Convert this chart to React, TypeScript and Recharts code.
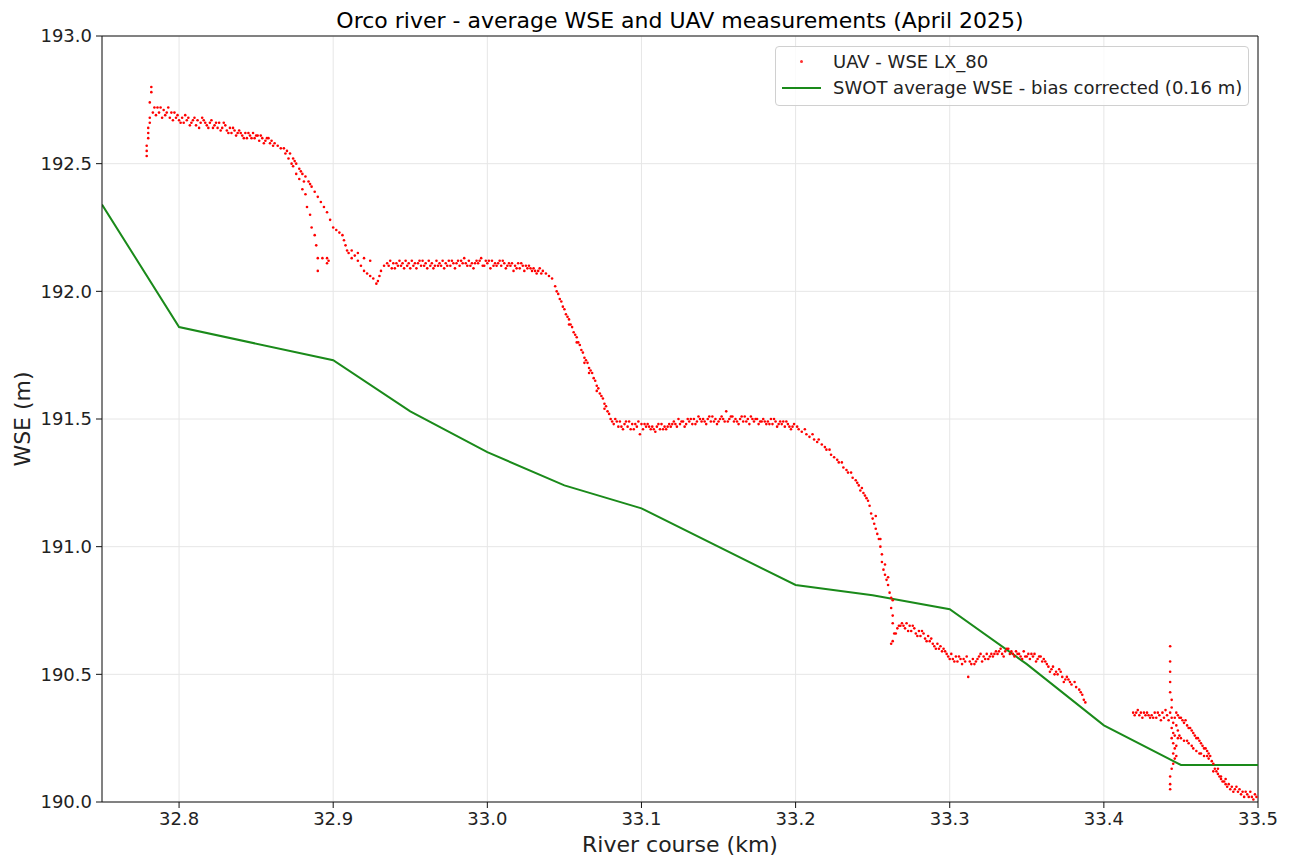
import React from "react";
import {
  ComposedChart,
  Scatter,
  Line,
  XAxis,
  YAxis,
  CartesianGrid,
  ReferenceLine,
} from "recharts";

// x: river course (km), y: water surface elevation (m)
const xTicks = [32.8, 32.9, 33.0, 33.1, 33.2, 33.3, 33.4, 33.5];
const yTicks = [190.0, 190.5, 191.0, 191.5, 192.0, 192.5, 193.0];

// SWOT average WSE, bias corrected (0.16 m)
const swotKm = [32.75, 32.8, 32.9, 32.95, 33.0, 33.05, 33.1, 33.2, 33.25, 33.3, 33.35, 33.4, 33.45, 33.5];
const swotWse = [192.34, 191.86, 191.73, 191.53, 191.37, 191.24, 191.15, 190.85, 190.81, 190.755, 190.54, 190.3, 190.145, 190.145];

// UAV - WSE LX_80
const uavUpperReach: [number, number][] = [
  [32.779, 192.53], [32.779, 192.55], [32.779, 192.57], [32.78, 192.6], [32.78, 192.62], [32.78, 192.64],
  [32.781, 192.66], [32.781, 192.68], [32.781, 192.74], [32.782, 192.78], [32.782, 192.8],
  [32.783, 192.7], [32.784, 192.72], [32.785, 192.69], [32.786, 192.72], [32.787, 192.7], [32.788, 192.72],
  [32.789, 192.68], [32.79, 192.71], [32.791, 192.69], [32.792, 192.7], [32.794, 192.68], [32.795, 192.7],
  [32.796, 192.67], [32.798, 192.68], [32.799, 192.69], [32.8, 192.67], [32.802, 192.68], [32.803, 192.66],
  [32.805, 192.67], [32.806, 192.68], [32.808, 192.66], [32.809, 192.67], [32.811, 192.65], [32.812, 192.67],
  [32.814, 192.66], [32.815, 192.68], [32.817, 192.66], [32.818, 192.65], [32.82, 192.66], [32.822, 192.64],
  [32.823, 192.65], [32.825, 192.64], [32.826, 192.66], [32.828, 192.64], [32.83, 192.65], [32.831, 192.63],
  [32.833, 192.64], [32.834, 192.62], [32.836, 192.63], [32.838, 192.62], [32.839, 192.63], [32.841, 192.61],
  [32.843, 192.62], [32.844, 192.6], [32.846, 192.61], [32.848, 192.62], [32.849, 192.6], [32.851, 192.61],
  [32.852, 192.59], [32.854, 192.6], [32.856, 192.59], [32.857, 192.6], [32.859, 192.58], [32.86, 192.59],
  [32.862, 192.58], [32.864, 192.57], [32.866, 192.56], [32.868, 192.56], [32.87, 192.55], [32.872, 192.54],
  [32.874, 192.52], [32.876, 192.5], [32.878, 192.48], [32.88, 192.46], [32.882, 192.45], [32.884, 192.43],
  [32.886, 192.41], [32.888, 192.39], [32.89, 192.37], [32.892, 192.35], [32.894, 192.33], [32.896, 192.31],
  [32.898, 192.28], [32.9, 192.25], [32.902, 192.24], [32.904, 192.23], [32.906, 192.22], [32.907, 192.2],
  [32.908, 192.18], [32.909, 192.16],
  [32.871, 192.52], [32.873, 192.5], [32.874, 192.49], [32.876, 192.46], [32.878, 192.44], [32.88, 192.4],
  [32.882, 192.38], [32.883, 192.33], [32.885, 192.3], [32.886, 192.25], [32.888, 192.22], [32.889, 192.18],
  [32.89, 192.13], [32.89, 192.08], [32.893, 192.13], [32.896, 192.13], [32.897, 192.12], [32.896, 192.11],
  [32.869, 192.54], [32.875, 192.51], [32.879, 192.47], [32.881, 192.43], [32.885, 192.42],
];

const uavSecondReach: [number, number][] = [
  [32.91, 192.15], [32.912, 192.13], [32.914, 192.14], [32.916, 192.12], [32.918, 192.1], [32.92, 192.08],
  [32.922, 192.07], [32.924, 192.06], [32.926, 192.05], [32.928, 192.03], [32.929, 192.04], [32.93, 192.06],
  [32.931, 192.08], [32.933, 192.1], [32.935, 192.11],
  [32.912, 192.16], [32.916, 192.15], [32.92, 192.13], [32.924, 192.12],
  [32.936, 192.1], [32.937, 192.12], [32.939, 192.11], [32.94, 192.09], [32.942, 192.1], [32.943, 192.12],
  [32.945, 192.11], [32.946, 192.09], [32.948, 192.1], [32.949, 192.11], [32.951, 192.12], [32.952, 192.1],
  [32.954, 192.09], [32.955, 192.11], [32.957, 192.1], [32.958, 192.12], [32.96, 192.11], [32.961, 192.09],
  [32.963, 192.1], [32.964, 192.11], [32.966, 192.1], [32.967, 192.12], [32.969, 192.11], [32.97, 192.1],
  [32.972, 192.09], [32.973, 192.11], [32.975, 192.12], [32.976, 192.1], [32.978, 192.11], [32.979, 192.09],
  [32.981, 192.12], [32.982, 192.1], [32.984, 192.11], [32.985, 192.13], [32.987, 192.1], [32.988, 192.12],
  [32.99, 192.11], [32.991, 192.09], [32.993, 192.12], [32.994, 192.11], [32.996, 192.13], [32.997, 192.1],
  [32.999, 192.12], [33.0, 192.11], [33.002, 192.09], [33.003, 192.12], [33.005, 192.11], [33.006, 192.1],
  [33.008, 192.12], [33.009, 192.1], [33.011, 192.11], [33.012, 192.09], [33.014, 192.11], [33.015, 192.1],
  [33.017, 192.08], [33.018, 192.1], [33.02, 192.11], [33.021, 192.09], [33.023, 192.1], [33.024, 192.08],
  [33.026, 192.09], [33.027, 192.1], [33.029, 192.08], [33.03, 192.09], [33.032, 192.07], [33.033, 192.08],
  [33.035, 192.07], [33.036, 192.08],
  [33.038, 192.07], [33.04, 192.06], [33.042, 192.05], [33.044, 192.02], [33.045, 192.0], [33.046, 191.99],
  [33.048, 191.96], [33.049, 191.94], [33.05, 191.93], [33.051, 191.91], [33.052, 191.9], [33.053, 191.89],
  [33.054, 191.87], [33.055, 191.86], [33.056, 191.84], [33.057, 191.83], [33.058, 191.82], [33.059, 191.8],
  [33.06, 191.79], [33.061, 191.77], [33.062, 191.76], [33.063, 191.74], [33.064, 191.73], [33.065, 191.72],
  [33.066, 191.7], [33.067, 191.69], [33.068, 191.68], [33.069, 191.66], [33.07, 191.65], [33.071, 191.63],
  [33.072, 191.62], [33.073, 191.6], [33.074, 191.59], [33.075, 191.58], [33.076, 191.56], [33.077, 191.55],
  [33.078, 191.53], [33.079, 191.52], [33.08, 191.5], [33.081, 191.49],
  [33.047, 191.97], [33.053, 191.87], [33.058, 191.8], [33.063, 191.72], [33.066, 191.68], [33.071, 191.61],
  [33.076, 191.54],
];

const uavThirdReach: [number, number][] = [
  [33.082, 191.48], [33.083, 191.5], [33.085, 191.47], [33.086, 191.49], [33.088, 191.46], [33.089, 191.48],
  [33.091, 191.47], [33.092, 191.49], [33.094, 191.48], [33.095, 191.46], [33.097, 191.47], [33.098, 191.49],
  [33.099, 191.44], [33.1, 191.48], [33.101, 191.46], [33.103, 191.47], [33.104, 191.48], [33.106, 191.46],
  [33.107, 191.47], [33.109, 191.45], [33.11, 191.47], [33.112, 191.46], [33.113, 191.48], [33.115, 191.47],
  [33.116, 191.46], [33.118, 191.48], [33.119, 191.47], [33.121, 191.49], [33.122, 191.48], [33.124, 191.5],
  [33.125, 191.48], [33.127, 191.49], [33.128, 191.47], [33.13, 191.5], [33.131, 191.49], [33.133, 191.48],
  [33.134, 191.5], [33.136, 191.49], [33.137, 191.51], [33.139, 191.49], [33.14, 191.5], [33.142, 191.48],
  [33.143, 191.5], [33.145, 191.49], [33.146, 191.51], [33.148, 191.5], [33.149, 191.48], [33.151, 191.5],
  [33.152, 191.51], [33.154, 191.49], [33.155, 191.53], [33.157, 191.5], [33.158, 191.51], [33.16, 191.49],
  [33.161, 191.5], [33.163, 191.48], [33.164, 191.5], [33.166, 191.49], [33.167, 191.51], [33.169, 191.5],
  [33.17, 191.48], [33.172, 191.5], [33.173, 191.49], [33.175, 191.5], [33.176, 191.48], [33.178, 191.49],
  [33.179, 191.5], [33.181, 191.48], [33.182, 191.49], [33.184, 191.5], [33.185, 191.48], [33.187, 191.49],
  [33.188, 191.47], [33.19, 191.49], [33.191, 191.48], [33.193, 191.47], [33.194, 191.49], [33.196, 191.47],
  [33.197, 191.46], [33.199, 191.48],
  [33.201, 191.47], [33.202, 191.46], [33.204, 191.45], [33.206, 191.46], [33.207, 191.44], [33.209, 191.43],
  [33.211, 191.44], [33.212, 191.42], [33.214, 191.41], [33.215, 191.42], [33.217, 191.4], [33.219, 191.39],
  [33.22, 191.38], [33.222, 191.38], [33.223, 191.36], [33.225, 191.35], [33.227, 191.34], [33.228, 191.33],
  [33.23, 191.33], [33.231, 191.31], [33.233, 191.3], [33.234, 191.29], [33.236, 191.29], [33.237, 191.27],
  [33.239, 191.26], [33.24, 191.25], [33.241, 191.24], [33.242, 191.22], [33.243, 191.23], [33.244, 191.21],
  [33.245, 191.2], [33.246, 191.19], [33.247, 191.18], [33.248, 191.16], [33.249, 191.13], [33.25, 191.11],
  [33.251, 191.09], [33.252, 191.07], [33.253, 191.05], [33.254, 191.03], [33.255, 191.0], [33.256, 190.97],
  [33.256, 190.94], [33.257, 190.91], [33.258, 190.89], [33.259, 190.87], [33.26, 190.85], [33.261, 190.82],
  [33.262, 190.8], [33.262, 190.76], [33.263, 190.73], [33.263, 190.7], [33.264, 190.66], [33.263, 190.63],
  [33.252, 191.12], [33.255, 191.03], [33.258, 190.93], [33.26, 190.88], [33.263, 190.79], [33.262, 190.62],
];

const uavFourthReach: [number, number][] = [
  [33.265, 190.66], [33.266, 190.68], [33.268, 190.69], [33.269, 190.7], [33.271, 190.68], [33.272, 190.7],
  [33.274, 190.69], [33.275, 190.67], [33.277, 190.68], [33.278, 190.66], [33.28, 190.67], [33.281, 190.65],
  [33.283, 190.66], [33.284, 190.64], [33.286, 190.65], [33.287, 190.63], [33.289, 190.62], [33.29, 190.61],
  [33.292, 190.62], [33.293, 190.6], [33.295, 190.59], [33.296, 190.6], [33.298, 190.58], [33.299, 190.57],
  [33.301, 190.58], [33.302, 190.56], [33.304, 190.57], [33.305, 190.55], [33.307, 190.56], [33.308, 190.54],
  [33.31, 190.55], [33.311, 190.57], [33.312, 190.49], [33.313, 190.55], [33.315, 190.56], [33.316, 190.54],
  [33.318, 190.56], [33.319, 190.57], [33.321, 190.55], [33.322, 190.57], [33.324, 190.58], [33.325, 190.56],
  [33.327, 190.58], [33.328, 190.57], [33.33, 190.59], [33.331, 190.58], [33.333, 190.6], [33.334, 190.58],
  [33.336, 190.59], [33.337, 190.6], [33.339, 190.58], [33.34, 190.59], [33.342, 190.57], [33.343, 190.59],
  [33.345, 190.58], [33.346, 190.57], [33.348, 190.59], [33.349, 190.57], [33.351, 190.58], [33.352, 190.56],
  [33.354, 190.57], [33.355, 190.58], [33.357, 190.56], [33.358, 190.57], [33.36, 190.55], [33.361, 190.56],
  [33.363, 190.54], [33.364, 190.53], [33.366, 190.52], [33.367, 190.53], [33.369, 190.51], [33.37, 190.5],
  [33.372, 190.51], [33.373, 190.49], [33.375, 190.48], [33.376, 190.49], [33.378, 190.47], [33.379, 190.46],
  [33.381, 190.47], [33.382, 190.45], [33.384, 190.44], [33.385, 190.43], [33.386, 190.42], [33.387, 190.4],
  [33.388, 190.39],
];

const uavLowerReach: [number, number][] = [
  [33.419, 190.35], [33.42, 190.34], [33.421, 190.35], [33.423, 190.34], [33.424, 190.35], [33.425, 190.33],
  [33.427, 190.34], [33.428, 190.35], [33.43, 190.33], [33.431, 190.34], [33.433, 190.35], [33.434, 190.33],
  [33.436, 190.34], [33.437, 190.32], [33.438, 190.35], [33.439, 190.33], [33.44, 190.36], [33.441, 190.34],
  [33.442, 190.32],
  [33.443, 190.61], [33.443, 190.55], [33.443, 190.51], [33.443, 190.47], [33.443, 190.43], [33.444, 190.4],
  [33.444, 190.37], [33.443, 190.35], [33.444, 190.33], [33.445, 190.31], [33.444, 190.29], [33.445, 190.27],
  [33.444, 190.25], [33.445, 190.23], [33.446, 190.21], [33.445, 190.19], [33.446, 190.17], [33.445, 190.15],
  [33.444, 190.13], [33.443, 190.1], [33.443, 190.07], [33.443, 190.05], [33.446, 190.33], [33.447, 190.3],
  [33.446, 190.26], [33.447, 190.22], [33.447, 190.18], [33.448, 190.25], [33.448, 190.28],
  [33.447, 190.35], [33.448, 190.34], [33.449, 190.33], [33.45, 190.33], [33.451, 190.32], [33.452, 190.31],
  [33.453, 190.32], [33.454, 190.3], [33.455, 190.29], [33.456, 190.29], [33.457, 190.28], [33.458, 190.27],
  [33.459, 190.26], [33.46, 190.25], [33.461, 190.25], [33.462, 190.24], [33.463, 190.23], [33.464, 190.22],
  [33.465, 190.21], [33.466, 190.21], [33.467, 190.2], [33.468, 190.19], [33.469, 190.18], [33.47, 190.16],
  [33.471, 190.15], [33.472, 190.13], [33.473, 190.12], [33.474, 190.11], [33.475, 190.1], [33.476, 190.09],
  [33.477, 190.08], [33.478, 190.08], [33.479, 190.07], [33.48, 190.06], [33.481, 190.07], [33.482, 190.05],
  [33.483, 190.06], [33.484, 190.04], [33.485, 190.05], [33.486, 190.06], [33.487, 190.04], [33.488, 190.05],
  [33.489, 190.03], [33.49, 190.04], [33.491, 190.02], [33.492, 190.04], [33.493, 190.03], [33.494, 190.02],
  [33.495, 190.04], [33.496, 190.02], [33.497, 190.01], [33.498, 190.03], [33.499, 190.02],
  [33.449, 190.26], [33.45, 190.25], [33.452, 190.24], [33.454, 190.24], [33.455, 190.23], [33.457, 190.22],
  [33.458, 190.21], [33.46, 190.2], [33.462, 190.19], [33.463, 190.19], [33.465, 190.18], [33.467, 190.18],
  [33.468, 190.17], [33.471, 190.12], [33.474, 190.13], [33.476, 190.1], [33.479, 190.09],
];

// second pass over the flat stretches, where the cloud is thicker
const uavBandExtra: [number, number][] = [
  [32.793, 192.72], [32.797, 192.7], [32.801, 192.66], [32.804, 192.69], [32.807, 192.65], [32.81, 192.68],
  [32.813, 192.64], [32.816, 192.67], [32.819, 192.64], [32.821, 192.67], [32.824, 192.66], [32.827, 192.63],
  [32.829, 192.66], [32.832, 192.62], [32.835, 192.64], [32.837, 192.61], [32.84, 192.62], [32.842, 192.6],
  [32.845, 192.62], [32.847, 192.6], [32.85, 192.61], [32.853, 192.61], [32.855, 192.58], [32.858, 192.6],
  [32.861, 192.57],
  [32.938, 192.09], [32.941, 192.11], [32.944, 192.1], [32.947, 192.12], [32.95, 192.09], [32.953, 192.11],
  [32.956, 192.12], [32.959, 192.1], [32.962, 192.12], [32.965, 192.09], [32.968, 192.1], [32.971, 192.12],
  [32.974, 192.1], [32.977, 192.12], [32.98, 192.11], [32.983, 192.12], [32.986, 192.11], [32.989, 192.1],
  [32.992, 192.11], [32.995, 192.12], [32.998, 192.1], [33.001, 192.12], [33.004, 192.1], [33.007, 192.11],
  [33.01, 192.12], [33.013, 192.1], [33.016, 192.11], [33.019, 192.09], [33.022, 192.11], [33.025, 192.1],
  [33.028, 192.09], [33.031, 192.08], [33.034, 192.09],
  [33.084, 191.49], [33.087, 191.47], [33.09, 191.49], [33.093, 191.46], [33.096, 191.48], [33.102, 191.48],
  [33.105, 191.47], [33.108, 191.46], [33.111, 191.48], [33.114, 191.46], [33.117, 191.47], [33.12, 191.48],
  [33.123, 191.47], [33.126, 191.49], [33.129, 191.48], [33.132, 191.5], [33.135, 191.48], [33.138, 191.5],
  [33.141, 191.49], [33.144, 191.51], [33.147, 191.49], [33.15, 191.49], [33.153, 191.5], [33.156, 191.49],
  [33.159, 191.51], [33.162, 191.49], [33.165, 191.51], [33.168, 191.49], [33.171, 191.51], [33.174, 191.5],
  [33.177, 191.49], [33.18, 191.49], [33.183, 191.48], [33.186, 191.5], [33.189, 191.48], [33.192, 191.49],
  [33.195, 191.48], [33.198, 191.47],
  [33.267, 190.69], [33.27, 190.69], [33.273, 190.67], [33.276, 190.69], [33.279, 190.65], [33.282, 190.67],
  [33.285, 190.63], [33.288, 190.64], [33.291, 190.6], [33.294, 190.61], [33.297, 190.59], [33.3, 190.56],
  [33.303, 190.55], [33.306, 190.57], [33.309, 190.56], [33.314, 190.54], [33.317, 190.55], [33.32, 190.58],
  [33.323, 190.56], [33.326, 190.57], [33.329, 190.58], [33.332, 190.59], [33.335, 190.57], [33.338, 190.6],
  [33.341, 190.58], [33.344, 190.58], [33.347, 190.56], [33.35, 190.57], [33.353, 190.58], [33.356, 190.55],
  [33.359, 190.57], [33.362, 190.55], [33.365, 190.51], [33.368, 190.5], [33.371, 190.52], [33.374, 190.47],
  [33.377, 190.48],
  [33.422, 190.36], [33.426, 190.35], [33.429, 190.34], [33.432, 190.33], [33.435, 190.35],
];

const uavData = [
  ...uavUpperReach,
  ...uavSecondReach,
  ...uavThirdReach,
  ...uavFourthReach,
  ...uavLowerReach,
  ...uavBandExtra,
].map(([km, wse]) => ({ km, wse }));

const swotData = swotKm.map((km, i) => ({ km, wse: swotWse[i] }));

const FONT = "'DejaVu Sans', sans-serif";

const UavDot = (props: any) => {
  if (props.cx == null || props.cy == null) return null;
  return <circle cx={props.cx} cy={props.cy} r={1.3} fill="#ff0000" />;
};

export default function App() {
  return (
    <div style={{ position: "relative", width: 1282, height: 854, fontFamily: FONT, color: "#000" }}>
      <div
        style={{
          position: "absolute",
          left: 94,
          width: 1156,
          top: -1,
          textAlign: "center",
          fontSize: 22,
          lineHeight: "28px",
        }}
      >
        Orco river - average WSE and UAV measurements (April 2025)
      </div>

      <ComposedChart
        width={1282}
        height={854}
        margin={{ top: 28, right: 32, bottom: 0, left: 0 }}
        style={{ fontFamily: FONT }}
      >
        <CartesianGrid stroke="#e6e6e6" strokeWidth={1} />
        <XAxis
          dataKey="km"
          type="number"
          domain={[32.75, 33.5]}
          ticks={xTicks}
          allowDataOverflow
          height={60}
          tickSize={6}
          tickMargin={4}
          tickFormatter={(v: number) => v.toFixed(1)}
          tick={{ fontSize: 18, fill: "#222" }}
          stroke="#111"
          label={{ value: "River course (km)", position: "insideBottom", offset: 10, fontSize: 22, fill: "#222" }}
        />
        <YAxis
          type="number"
          domain={[190, 193]}
          ticks={yTicks}
          allowDataOverflow
          width={94}
          tickSize={6}
          tickMargin={4}
          tickFormatter={(v: number) => v.toFixed(1)}
          tick={{ fontSize: 18, fill: "#222" }}
          stroke="#111"
          label={{
            value: "WSE (m)",
            angle: -90,
            position: "insideLeft",
            offset: 14,
            fontSize: 22,
            fill: "#222",
            style: { textAnchor: "middle" },
          }}
        />
        <ReferenceLine x={33.5} stroke="#111" strokeWidth={1} ifOverflow="extendDomain" />
        <ReferenceLine y={193} stroke="#111" strokeWidth={1} ifOverflow="extendDomain" />
        <Scatter
          name="UAV - WSE LX_80"
          data={uavData}
          dataKey="wse"
          shape={UavDot}
          isAnimationActive={false}
        />
        <Line
          name="SWOT average WSE - bias corrected (0.16 m)"
          data={swotData}
          dataKey="wse"
          type="linear"
          stroke="#1a8a1a"
          strokeWidth={2}
          dot={false}
          isAnimationActive={false}
        />
      </ComposedChart>

      <div
        style={{
          position: "absolute",
          left: 767,
          top: 38,
          width: 472,
          height: 58,
          border: "1px solid #d0d0d0",
          borderRadius: 4,
          background: "rgba(255,255,255,0.8)",
          fontSize: 18,
          color: "#222",
        }}
      >
        <div style={{ position: "absolute", left: 24, top: 13, width: 3, height: 3, borderRadius: 2, background: "#ff3030" }} />
        <div style={{ position: "absolute", left: 57, top: 3, lineHeight: "24px", whiteSpace: "nowrap" }}>
          UAV - WSE LX_80
        </div>
        <div style={{ position: "absolute", left: 6, top: 40, width: 39, height: 2, background: "#1a8a1a" }} />
        <div style={{ position: "absolute", left: 57, top: 29, lineHeight: "24px", whiteSpace: "nowrap" }}>
          SWOT average WSE - bias corrected (0.16 m)
        </div>
      </div>
    </div>
  );
}
